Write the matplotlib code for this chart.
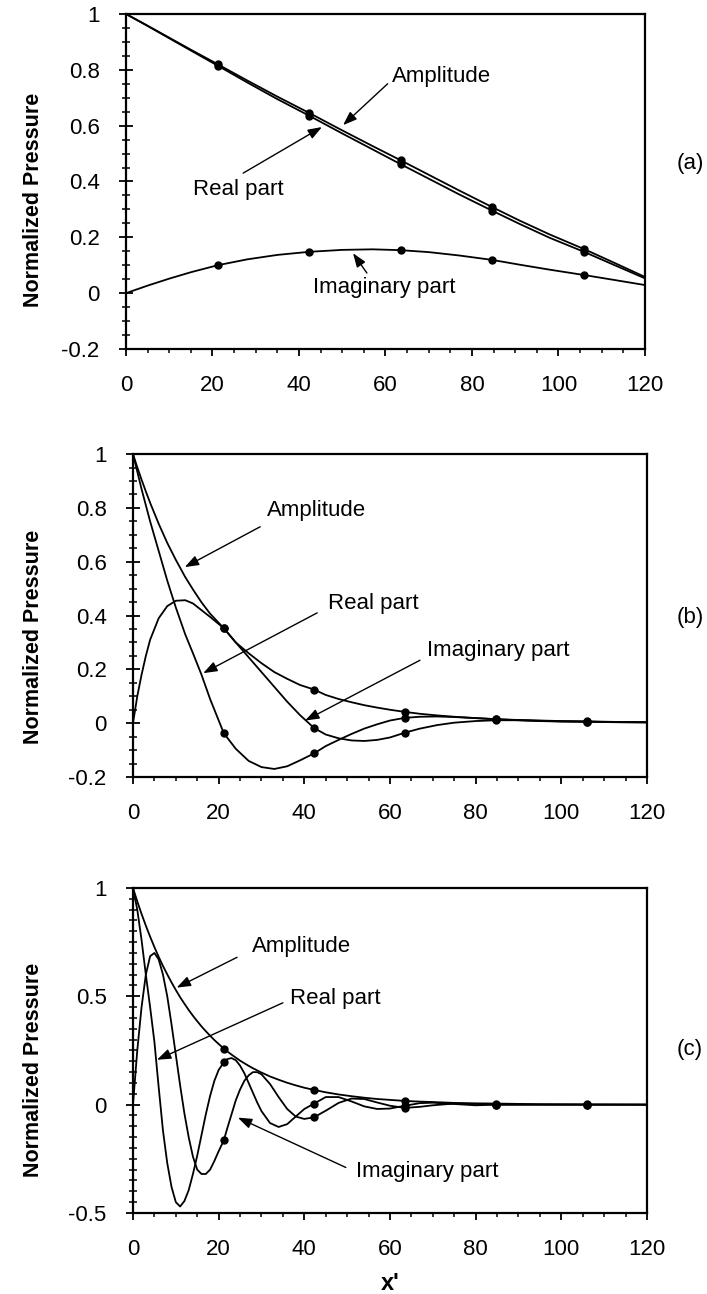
import matplotlib
matplotlib.use("Agg")
import matplotlib.pyplot as plt
from matplotlib.ticker import MultipleLocator, FuncFormatter

plt.rcParams['font.family'] = ['Liberation Sans', 'DejaVu Sans']

# positions of the plotted symbols (same in the three panels)
x_markers = [21.2, 42.3, 63.5, 84.7, 105.9]

# ---- panel (a)
x_a = [0, 5, 10, 15, 21.2, 28, 35, 42.3, 50, 57, 63.5, 70, 77, 84.7, 91, 98, 105.9, 113, 120]
amp_a = [1.0, 0.958, 0.915, 0.872, 0.82, 0.762, 0.704, 0.646, 0.583, 0.527, 0.476, 0.424,
         0.368, 0.308, 0.26, 0.21, 0.158, 0.108, 0.058]
real_a = [1.0, 0.957, 0.913, 0.869, 0.815, 0.755, 0.695, 0.636, 0.572, 0.515, 0.462, 0.41,
          0.354, 0.295, 0.248, 0.198, 0.148, 0.10, 0.053]
imag_a = [0.0, 0.027, 0.052, 0.075, 0.10, 0.121, 0.137, 0.148, 0.155, 0.157, 0.154, 0.147,
          0.135, 0.119, 0.102, 0.084, 0.065, 0.047, 0.029]

# ---- panel (b)
x_b = [0, 1, 2, 3, 4, 6, 8, 10, 12.2, 14, 16, 18, 21.2, 24, 27, 30, 33, 36, 39, 42.3, 45,
       48, 51, 54, 57, 60, 63.5, 67, 71, 75, 80, 84.7, 90, 95, 100, 105.9, 112, 120]
amp_b = [1.0, 0.951, 0.905, 0.861, 0.819, 0.741, 0.67, 0.607, 0.543, 0.497, 0.449, 0.407,
         0.353, 0.30, 0.26, 0.223, 0.19, 0.165, 0.142, 0.125, 0.105, 0.09, 0.078, 0.067,
         0.058, 0.05, 0.042, 0.035, 0.029, 0.024, 0.019, 0.015, 0.012, 0.01, 0.008, 0.007,
         0.005, 0.004]
real_b = [1.0, 0.935, 0.87, 0.81, 0.75, 0.64, 0.53, 0.43, 0.33, 0.26, 0.18, 0.09, -0.037,
          -0.095, -0.14, -0.163, -0.17, -0.16, -0.138, -0.112, -0.085, -0.062, -0.04, -0.02,
          -0.004, 0.01, 0.02, 0.024, 0.025, 0.023, 0.019, 0.015, 0.011, 0.008, 0.006, 0.005,
          0.004, 0.003]
imag_b = [0.0, 0.1, 0.18, 0.25, 0.31, 0.39, 0.435, 0.455, 0.457, 0.445, 0.42, 0.395, 0.353,
          0.3, 0.245, 0.19, 0.135, 0.08, 0.03, -0.018, -0.042, -0.056, -0.064, -0.066,
          -0.062, -0.053, -0.035, -0.02, -0.007, 0.002, 0.008, 0.011, 0.011, 0.009, 0.007,
          0.006, 0.004, 0.003]

# ---- panel (c)
x_c = [0, 1, 2, 3, 4, 5, 6, 7, 8, 9, 10, 11, 12, 13, 14, 15, 16, 17, 18, 19, 20, 21.2, 22,
       23, 24, 25, 26, 27, 28, 29, 30, 32, 34, 36, 38, 40, 42.3, 45, 48, 51, 54, 57, 60,
       63.5, 67, 70, 75, 80, 84.7, 95, 105.9, 120]
amp_c = [1.0, 0.938, 0.88, 0.826, 0.775, 0.727, 0.682, 0.64, 0.601, 0.564, 0.529, 0.496,
         0.466, 0.437, 0.41, 0.385, 0.361, 0.339, 0.318, 0.298, 0.28, 0.259, 0.246, 0.231,
         0.217, 0.203, 0.191, 0.179, 0.168, 0.158, 0.148, 0.13, 0.115, 0.101, 0.089, 0.078,
         0.068, 0.057, 0.047, 0.039, 0.032, 0.026, 0.022, 0.017, 0.014, 0.012, 0.008, 0.006,
         0.005, 0.002, 0.001, 0.0]
real_c = [1.0, 0.90, 0.76, 0.60, 0.45, 0.29, 0.08, -0.12, -0.27, -0.38, -0.45, -0.47, -0.445,
          -0.395, -0.32, -0.235, -0.14, -0.045, 0.04, 0.11, 0.16, 0.195, 0.21, 0.215, 0.205,
          0.18, 0.145, 0.10, 0.055, 0.01, -0.03, -0.085, -0.103, -0.09, -0.055, -0.02, 0.005,
          0.035, 0.035, 0.015, -0.008, -0.02, -0.018, -0.005, 0.007, 0.009, 0.003, -0.003,
          0.0, 0.0, 0.0, 0.0]
imag_c = [0.0, 0.25, 0.45, 0.60, 0.685, 0.70, 0.67, 0.60, 0.50, 0.37, 0.23, 0.09, -0.04,
          -0.15, -0.24, -0.30, -0.32, -0.32, -0.30, -0.26, -0.215, -0.165, -0.11, -0.045,
          0.02, 0.07, 0.11, 0.135, 0.15, 0.15, 0.14, 0.095, 0.035, -0.02, -0.055, -0.066,
          -0.058, -0.028, 0.008, 0.028, 0.026, 0.01, -0.005, -0.015, -0.01, -0.003, 0.005,
          0.003, 0.0, 0.0, 0.0, 0.0]

labels = ['Amplitude', 'Real part', 'Imaginary part']

fig = plt.figure(figsize=(7.07, 12.94), dpi=100)

# axes boxes in figure fractions
ax_a = fig.add_axes([0.1782, 0.7303, 0.7341, 0.2589])
ax_b = fig.add_axes([0.1881, 0.3995, 0.7270, 0.2496])
ax_c = fig.add_axes([0.1881, 0.0626, 0.7270, 0.2512])


def style_axis(ax, ymin, ystep):
    ax.set_xlim(0, 120)
    ax.set_ylim(ymin, 1)
    ax.xaxis.set_major_locator(MultipleLocator(20))
    ax.xaxis.set_minor_locator(MultipleLocator(5))
    ax.yaxis.set_major_locator(MultipleLocator(ystep))
    ax.yaxis.set_minor_locator(MultipleLocator(0.05))
    ax.yaxis.set_major_formatter(FuncFormatter(lambda v, p: f'{round(v, 3) + 0:g}'))
    ax.tick_params(axis='x', which='major', direction='out', length=5, width=1.3,
                   pad=14, labelsize=16)
    ax.tick_params(axis='x', which='minor', direction='out', length=3, width=1.1)
    ax.tick_params(axis='y', which='major', direction='inout', length=10, width=1.3,
                   pad=14, labelsize=16)
    ax.tick_params(axis='y', which='minor', direction='inout', length=6, width=1.1)
    for s in ax.spines.values():
        s.set_linewidth(1.6)


def draw(ax, x, series):
    idx = [x.index(m) for m in x_markers]
    for y in series:
        ax.plot(x, y, color='black', lw=1.3, marker='o', ms=5, markevery=idx)


def note(ax, text, txt_pos, tail, tip):
    ax.text(txt_pos[0], txt_pos[1], text, fontsize=16, ha='left', va='center')
    ax.annotate('', xy=tip, xytext=tail,
                arrowprops=dict(arrowstyle='-|>,head_length=0.6,head_width=0.22',
                                color='black', lw=1.0, shrinkA=0, shrinkB=0,
                                mutation_scale=14))


style_axis(ax_a, -0.2, 0.2)
draw(ax_a, x_a, [amp_a, real_a, imag_a])
note(ax_a, labels[0], (61.5, 0.775), (60.5, 0.75), (50.2, 0.602))
note(ax_a, labels[1], (15.5, 0.37), (27.1, 0.43), (45.3, 0.595))
note(ax_a, labels[2], (43.2, 0.02), (55.7, 0.072), (52.5, 0.143))

style_axis(ax_b, -0.2, 0.2)
draw(ax_b, x_b, [amp_b, real_b, imag_b])
note(ax_b, labels[0], (31.3, 0.79), (29.7, 0.73), (12.1, 0.58))
note(ax_b, labels[1], (45.5, 0.446), (43.0, 0.41), (16.4, 0.186))
note(ax_b, labels[2], (68.6, 0.27), (67.0, 0.234), (40.2, 0.01))

style_axis(ax_c, -0.5, 0.5)
draw(ax_c, x_c, [amp_c, real_c, imag_c])
note(ax_c, labels[0], (27.8, 0.728), (24.3, 0.68), (10.2, 0.54))
note(ax_c, labels[1], (36.7, 0.49), (35.0, 0.47), (5.6, 0.207))
note(ax_c, labels[2], (52.0, -0.31), (49.7, -0.29), (24.5, -0.06))

# y labels, panel tags and x label
for yc in [0.8454, 0.5077, 0.1730]:
    fig.text(0.047, yc, 'Normalized Pressure', rotation=90, ha='center', va='center',
             fontsize=15.5, fontweight='bold')
for tag, yc in [('(a)', 0.874), ('(b)', 0.523), ('(c)', 0.1886)]:
    fig.text(0.976, yc, tag, ha='center', va='center', fontsize=16)
fig.text(390 / 707, 1 - 1283 / 1294, "x'", ha='center', va='center', fontsize=17,
         fontweight='bold')

fig.savefig('out.png', dpi=100)
